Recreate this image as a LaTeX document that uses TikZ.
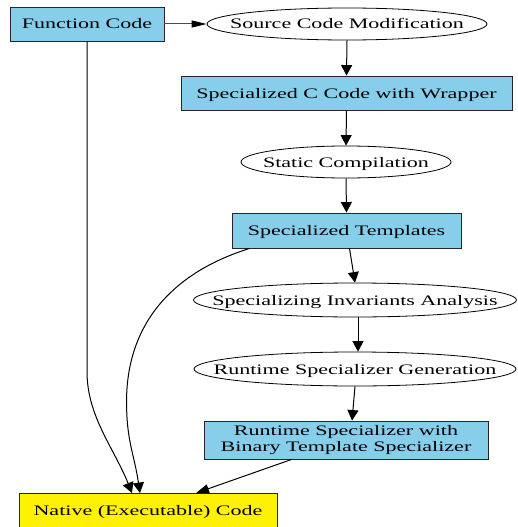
\documentclass[tikz,border=0pt]{standalone}
\usepackage{fontspec}
\setmainfont{Liberation Serif}[FakeStretch=1.52]
\usetikzlibrary{arrows.meta,shapes.geometric}
\begin{document}
\begin{tikzpicture}[x=1pt,y=-1pt,
  every node/.style={font=\fontsize{14.5}{15.7}\selectfont, inner sep=0pt, align=center},
  one/.style={text height=10pt, text depth=0pt},
  box/.style={draw=black!85, line width=0.9pt, fill={rgb,255:red,135;green,206;blue,235}, rectangle},
  natbox/.style={draw=black!85, line width=0.9pt, fill=yellow, rectangle},
  oval/.style={draw=black, line width=0.8pt, ellipse},
  conn/.style={draw=black, line width=1pt, -{Triangle[length=10.5pt,width=11pt]}},
  hconn/.style={draw=black!70, line width=1pt, -{Triangle[length=15pt,width=7pt,black]}}
]
\useasboundingbox (0,0) rectangle (517,527);
\node[box, one, minimum width=154pt, minimum height=34pt] (fc) at (87,24) {Function Code};
\node[oval, minimum width=280pt, minimum height=32pt, label={[one]center:{Source Code Modification}}] (scm) at (347,24) {};
\node[box, one, minimum width=331pt, minimum height=34pt] (sccw) at (346.5,93) {Specialized C Code with Wrapper};
\node[oval, minimum width=210pt, minimum height=32pt, label={[one]center:{Static Compilation}}] (sc) at (346,162) {};
\node[box, one, minimum width=229pt, minimum height=35pt] (st) at (346.5,230.5) {Specialized Templates};
\node[oval, minimum width=323pt, minimum height=34pt, label={[one]center:{Specializing Invariants Analysis}}] (sia) at (355,300) {};
\node[oval, minimum width=322pt, minimum height=34pt, label={[one]center:{Runtime Specializer Generation}}] (rsg) at (355,369) {};
\node[box, minimum width=284pt, minimum height=38pt] (rs) at (346,440) {Runtime Specializer with\\Binary Template Specializer};
\node[natbox, one, minimum width=258pt, minimum height=34pt] (nat) at (148,510.5) {Native (Executable) Code};

\draw[hconn] (fc.east) -- (scm.west);
\draw[conn] (scm.south) -- (sccw.north);
\draw[conn] (sccw.south) -- (sc.north);
\draw[conn] (sc.south) -- (st.north);
\draw[conn] ([xshift=3pt]st.south) -- (sia.north);
\draw[conn] ([xshift=3pt]sia.south) -- ([xshift=3pt]rsg.north);
\draw[conn] (rsg.south) -- ([xshift=6pt]rs.north);
\draw[conn, -{Triangle[length=13pt,width=9pt]}] ([xshift=88pt]rs.south west) -- ([xshift=48pt]nat.north);
\draw[conn] (fc.south) -- ++(0,330) .. controls +(0,45) and +(-18,-45) .. ([xshift=-16pt]nat.north);
\draw[conn] ([xshift=18pt]st.south west) .. controls +(-80,25) and +(0,-75) .. ++(-123,153) .. controls +(0,40) and +(-6,-40) .. ([xshift=-8pt]nat.north);
\end{tikzpicture}
\end{document}
